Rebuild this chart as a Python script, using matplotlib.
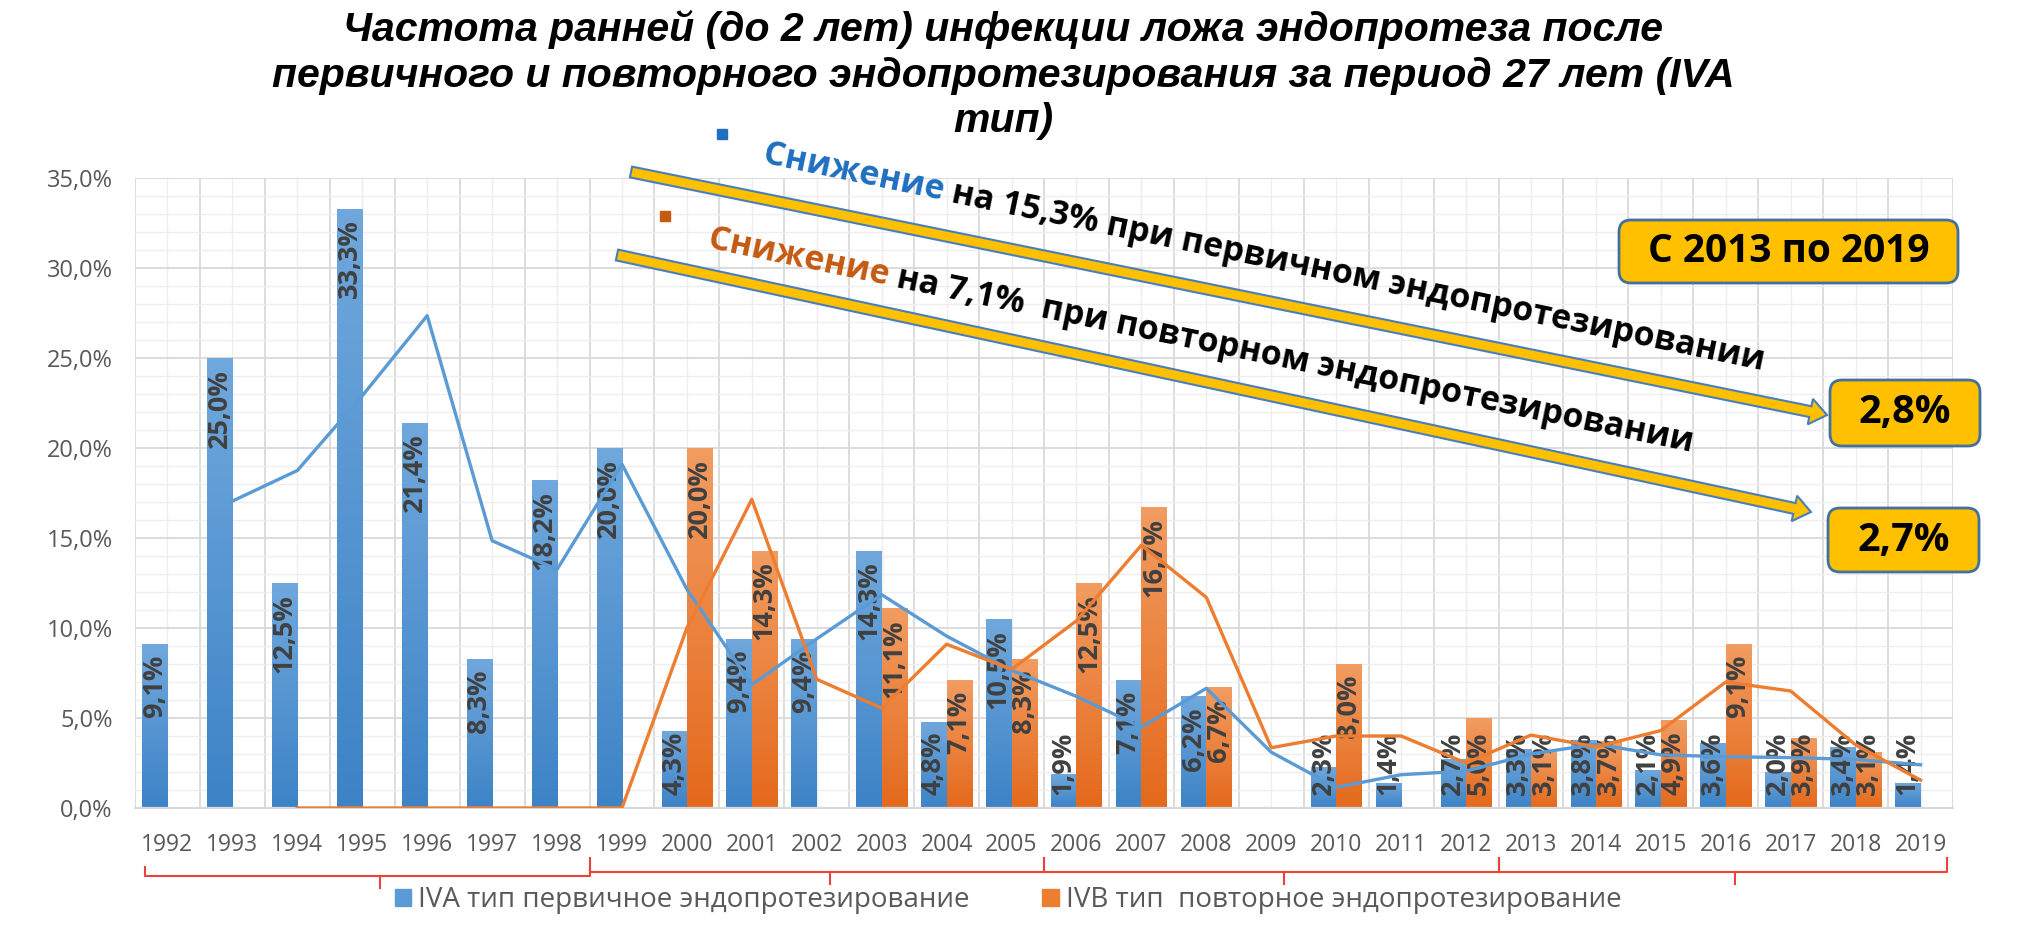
import numpy as np
import pandas as pd
import matplotlib
matplotlib.use("Agg")
import matplotlib.pyplot as plt
from matplotlib.colors import to_rgb
from matplotlib.lines import Line2D
from matplotlib.patches import FancyArrow, FancyBboxPatch, Patch
from matplotlib.ticker import FixedLocator, MultipleLocator, FuncFormatter
from matplotlib.transforms import IdentityTransform, blended_transform_factory

plt.rcParams['font.family'] = ['Open Sans', 'DejaVu Sans']

# data (% early infection, IVA = primary, IVB = revision)
years = list(range(1992, 2020))
primary = [9.1, 25.0, 12.5, 33.3, 21.4, 8.3, 18.2, 20.0,
           4.3, 9.4, 9.4, 14.3, 4.8, 10.5,
           1.9, 7.1, 6.2, 0, 2.3, 1.4, 2.7,
           3.3, 3.8, 2.1, 3.6, 2.0, 3.4, 1.4]
revision = [np.nan, 0, 0, 0, 0, 0, 0, 0,
            20.0, 14.3, 0, 11.1, 7.1, 8.3,
            12.5, 16.7, 6.7, 0, 8.0, 0, 5.0,
            3.1, 3.7, 4.9, 9.1, 3.9, 3.1, 0]
legend_labels = ['IVA тип первичное эндопротезирование',
                 'IVB тип  повторное эндопротезирование']
title = ('Частота ранней (до 2 лет) инфекции ложа эндопротеза после\n'
         'первичного и повторного эндопротезирования за период 27 лет (IVA\n'
         'тип)')
note1 = ['Снижение', ' на 15,3% при первичном эндопротезировании']
note2 = ['Снижение', ' на 7,1%  при повторном эндопротезировании']
period = 'С 2013 по 2019'
final_primary = '2,8%'
final_revision = '2,7%'

BLUE = '#5B9BD5'
ORANGE = '#ED7D31'
W, H = 2020, 932

fig = plt.figure(figsize=(W / 100, H / 100), dpi=100)
ax = fig.add_axes([135 / W, 1 - 808 / H, (1953 - 135) / W, (808 - 178) / H])

x = np.arange(len(years))
bw = 0.39
prim = np.array(primary, dtype=float)
rev = np.nan_to_num(np.array(revision, dtype=float))

bars_a = ax.bar(x - bw / 2, prim, bw, color=BLUE, zorder=2)
bars_b = ax.bar(x + bw / 2, rev, bw, color=ORANGE, zorder=2)


# vertical gradient like the office bar fill
def shade(patch, top, bottom):
    h = patch.get_height()
    if h <= 0:
        return
    x0, w = patch.get_x(), patch.get_width()
    t, b = np.array(to_rgb(top)), np.array(to_rgb(bottom))
    grad = b + np.linspace(0, 1, 64)[:, None, None] * (t - b)
    im = ax.imshow(grad, extent=(x0, x0 + w, 0, h), origin='lower',
                   aspect='auto', interpolation='bilinear', zorder=2)
    im.set_clip_path(patch)


for p in bars_a:
    shade(p, '#70A8DD', '#3D83C6')
for p in bars_b:
    shade(p, '#F29C61', '#E4691C')

# two-period moving average trend lines
ma_a = pd.Series(primary, dtype=float).rolling(2).mean()
ma_b = pd.Series(revision, dtype=float).rolling(2).mean()
ax.plot(x, ma_a, color=BLUE, lw=2.4, zorder=5)
ax.plot(x, ma_b, color=ORANGE, lw=2.4, zorder=5)


# data labels inside bars
def fmt(v):
    return f'{v:.1f}%'.replace('.', ',')


for bars, vals in ((bars_a, prim), (bars_b, rev)):
    for p, v in zip(bars, vals):
        if v <= 0:
            continue
        cx = p.get_x() + p.get_width() / 2
        if v >= 6:
            ax.text(cx, v - 0.6, fmt(v), rotation=90, ha='center', va='top',
                    fontsize=19.5, fontweight='bold', color='#404040', zorder=4)
        else:
            ax.text(cx, 0.7, fmt(v), rotation=90, ha='center', va='bottom',
                    fontsize=19.5, fontweight='bold', color='#404040', zorder=4)

ax.set_xlim(-0.5, len(years) - 0.5)
ax.set_ylim(0, 35)
ax.set_xticks(x)
ax.set_xticklabels([str(y) for y in years])
ax.xaxis.set_minor_locator(FixedLocator(np.arange(-0.5, len(years), 1)))
ax.yaxis.set_major_locator(MultipleLocator(5))
ax.yaxis.set_minor_locator(MultipleLocator(1))
ax.yaxis.set_major_formatter(FuncFormatter(lambda v, _: fmt(v)))
ax.set_axisbelow(True)
ax.grid(axis='y', which='major', color='#D9D9D9', lw=1.3)
ax.grid(axis='y', which='minor', color='#EEEEEE', lw=1)
ax.grid(axis='x', which='minor', color='#D9D9D9', lw=1.3)
ax.grid(axis='x', which='major', color='#EEEEEE', lw=1)
ax.tick_params(which='both', length=0)
ax.tick_params(axis='x', labelsize=16.5, labelcolor='#595959', pad=18)
ax.tick_params(axis='y', labelsize=17, labelcolor='#595959', pad=16)
for s in ('top', 'right', 'left'):
    ax.spines[s].set_visible(False)
ax.spines['bottom'].set_color('#D9D9D9')
ax.spines['bottom'].set_linewidth(1.6)

# red braces grouping the years by seven
tr = blended_transform_factory(ax.transData, ax.transAxes)
groups = [(-0.34, 6.5, -0.108, -0.094), (6.5, 13.5, -0.101, -0.079),
          (13.5, 20.5, -0.101, -0.079), (20.5, 27.4, -0.101, -0.079)]
for x0, x1, yh, yend in groups:
    xm = (x0 + x1) / 2 + 0.2
    ax.plot([x0, x0, x1, x1], [yend, yh, yh, yend], color='#E8443A', lw=1.5,
            transform=tr, clip_on=False)
    ax.plot([xm, xm], [yh, yh - 0.019], color='#E8443A', lw=1.5,
            transform=tr, clip_on=False)

fig.legend([Patch(color=BLUE), Patch(color=ORANGE)], legend_labels,
           loc='center', bbox_to_anchor=(0.499, 0.034), ncol=2, frameon=False,
           fontsize=20, labelcolor='#595959', handlelength=0.6,
           handleheight=0.6, handletextpad=0.25, columnspacing=2.6)

fig.text(0.4965, 0.989, title, ha='center', va='top', fontsize=29.5,
         fontweight='bold', fontstyle='italic', linespacing=1.25,
         family=['Liberation Sans', 'DejaVu Sans'])

# overlay graphics in pixel coordinates (y measured from the top)
ident = IdentityTransform()


def arrow(x0, y0, x1, y1):
    a = FancyArrow(x0, H - y0, x1 - x0, y0 - y1, width=11, head_width=26,
                   head_length=17, length_includes_head=True,
                   fc='#FFC000', ec='#4A7EBB', lw=1.5, transform=ident)
    fig.add_artist(a)


arrow(631, 172, 1827, 415)
arrow(617, 255, 1811, 512)

renderer = fig.canvas.get_renderer()


def slanted(x0, y0, parts, colors, angle, size=24.3):
    th = np.deg2rad(angle)
    d = 0.0
    for s, c in zip(parts, colors):
        fig.text(x0 + d * np.cos(th), H - y0 - d * np.sin(th), s,
                 transform=ident, rotation=-angle, rotation_mode='anchor',
                 ha='left', va='baseline', fontsize=size, fontweight='bold',
                 color=c)
        tmp = fig.text(0, 0, s, transform=ident, fontsize=size,
                       fontweight='bold')
        d += tmp.get_window_extent(renderer).width
        tmp.remove()


slanted(762, 163, note1, ['#1F6FC0', 'black'], 11.7)
slanted(707, 248, note2, ['#C55A11', 'black'], 11.7)

fig.add_artist(Line2D([722], [H - 134], marker='s', ms=7, color='#1F6FC0',
                      transform=ident))
fig.add_artist(Line2D([665], [H - 216], marker='s', ms=7, color='#C55A11',
                      transform=ident))


def box(x0, y0, x1, y1, s, size):
    b = FancyBboxPatch((x0, H - y1), x1 - x0, y1 - y0,
                       boxstyle='round,pad=0,rounding_size=12',
                       fc='#FFC000', ec='#41719C', lw=2, transform=ident)
    fig.add_artist(b)
    fig.text((x0 + x1) / 2, H - (y0 + y1) / 2, s, transform=ident,
             ha='center', va='center', fontsize=size, fontweight='bold',
             color='black')


box(1619, 220, 1958, 283, period, 28)
box(1830, 380, 1980, 446, final_primary, 28.5)
box(1828, 508, 1979, 572, final_revision, 28.5)

fig.savefig('out.png', dpi=100)
